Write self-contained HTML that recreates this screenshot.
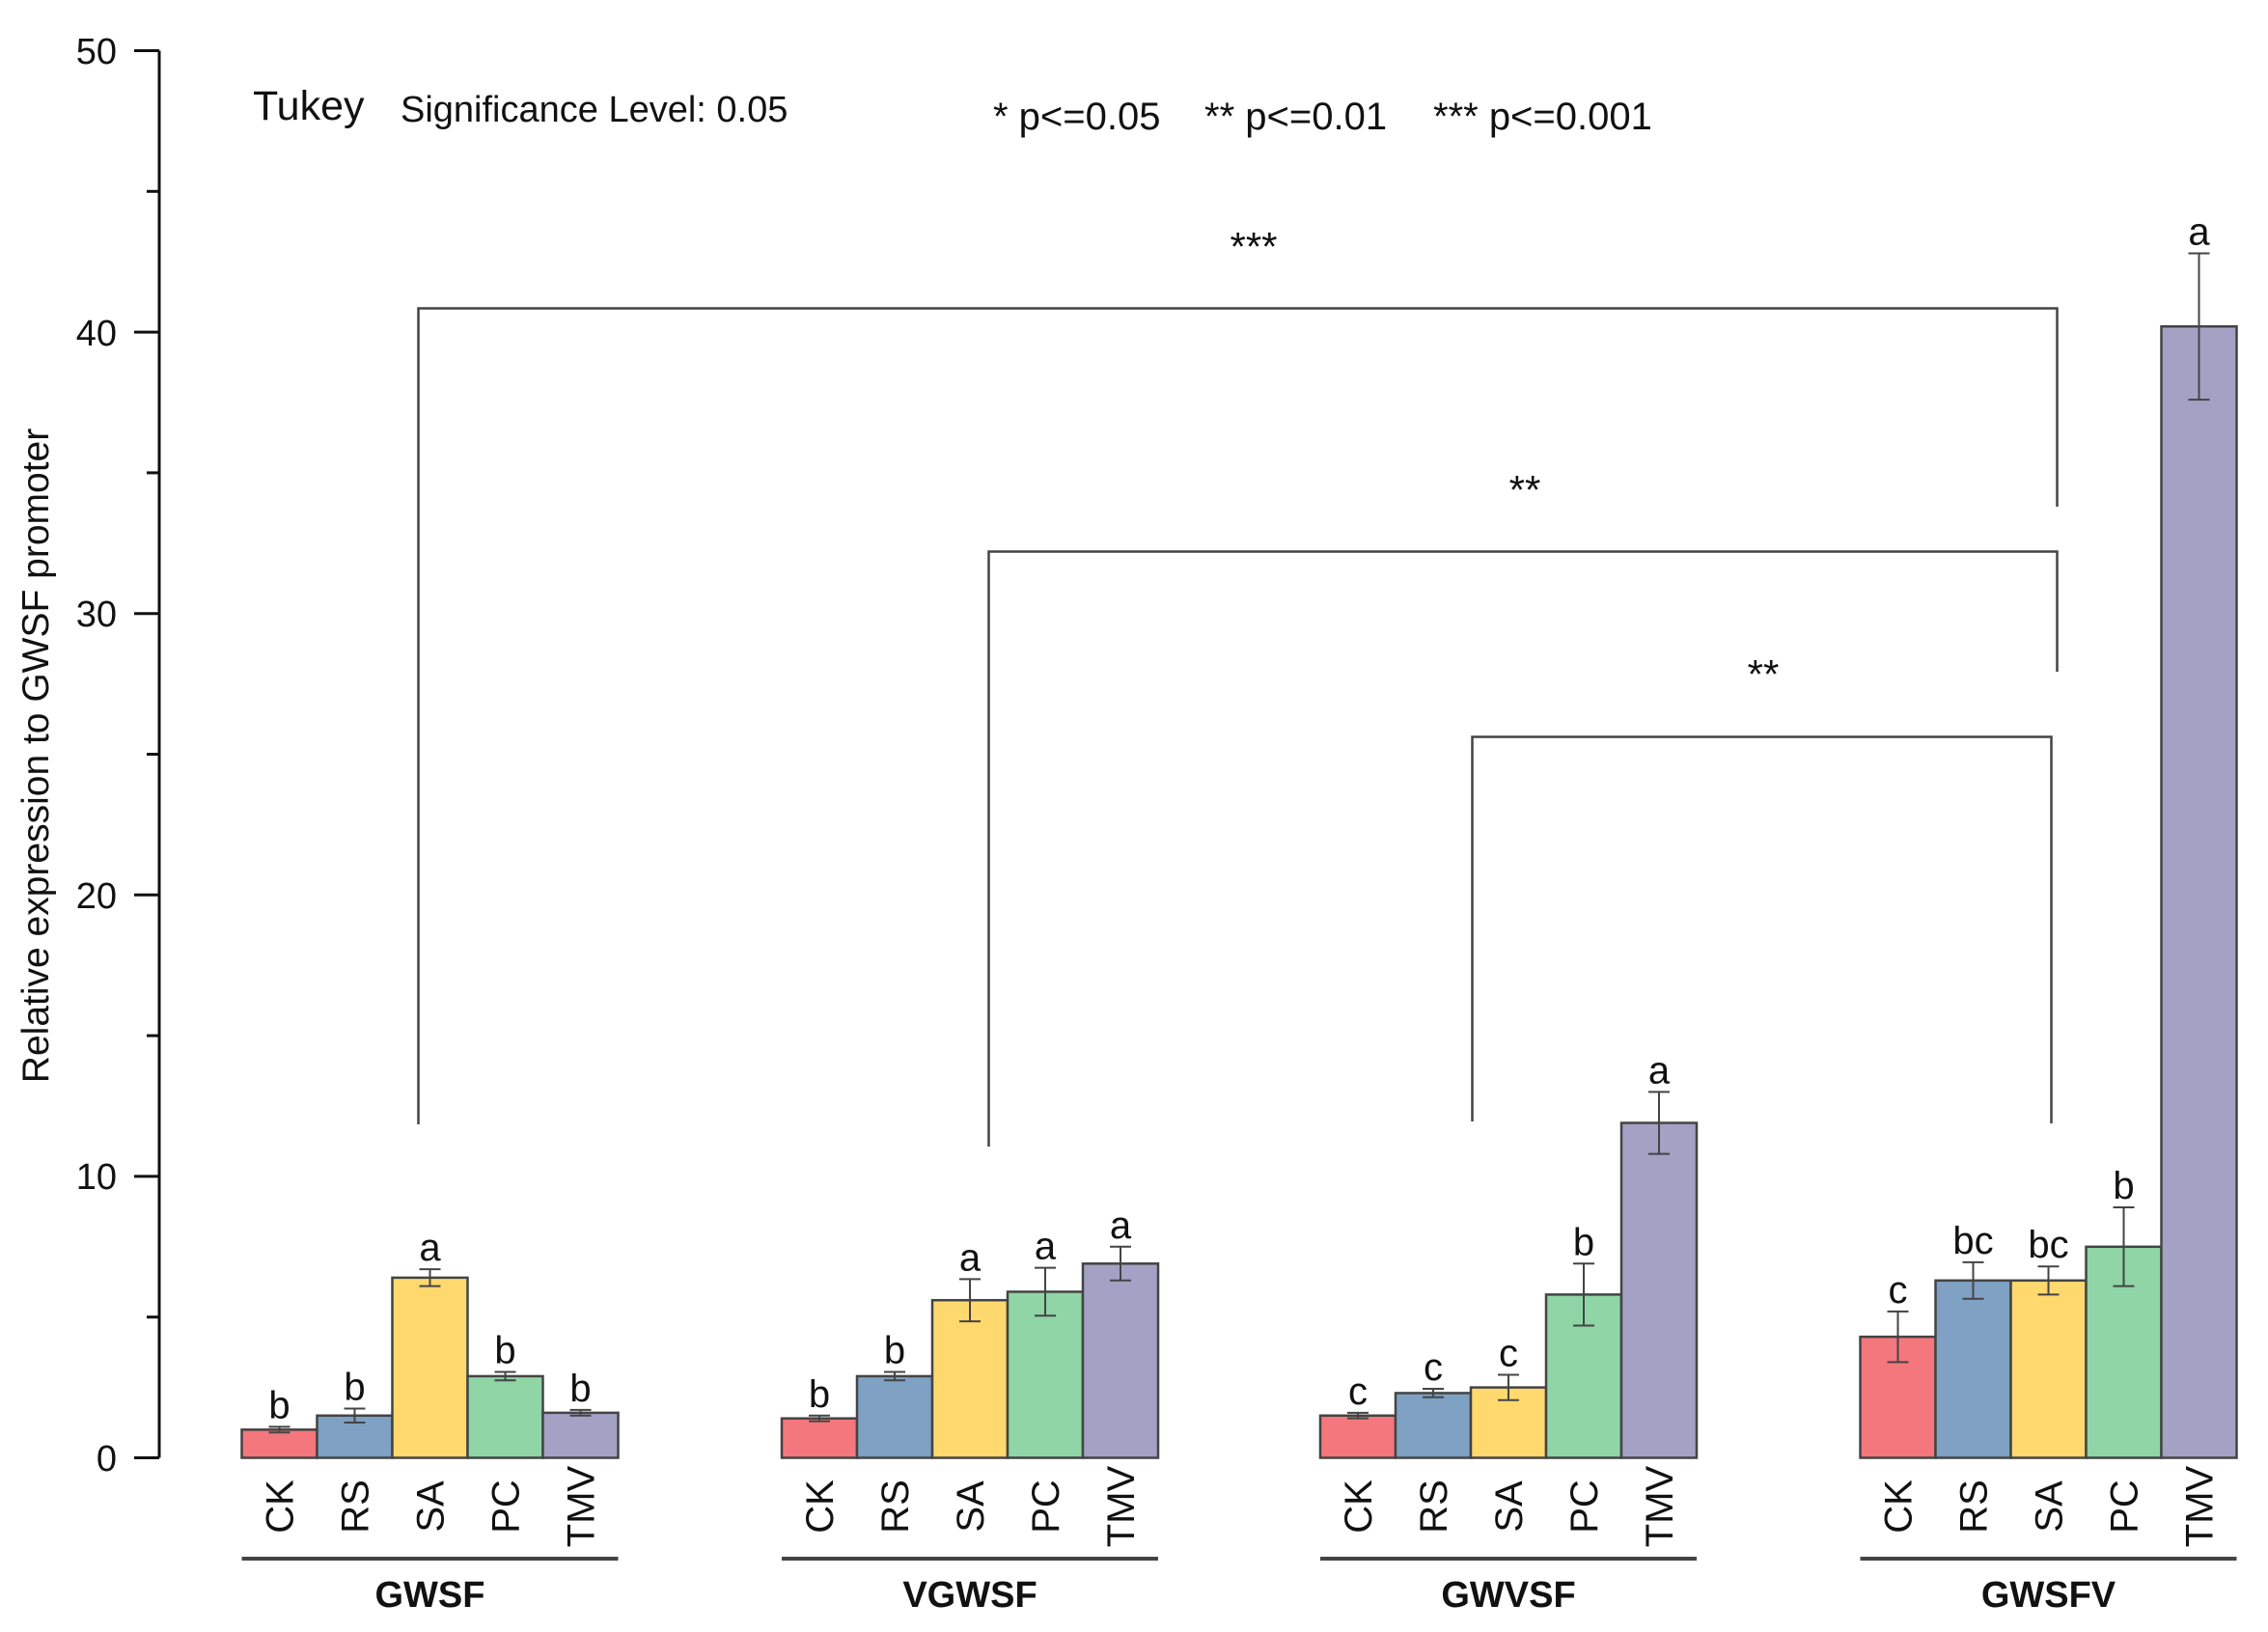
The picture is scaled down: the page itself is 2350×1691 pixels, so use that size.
<!DOCTYPE html>
<html><head><meta charset="utf-8"><style>body{margin:0;background:#fff}svg{display:block}text{font-family:"Liberation Sans",Arial,sans-serif;fill:#111}</style></head>
<body>
<svg width="2350" height="1691" viewBox="0 0 2350 1691" xmlns="http://www.w3.org/2000/svg">
<g stroke="#111" stroke-width="3" fill="none">
<line x1="165" y1="52.5" x2="165" y2="1510.5"/>
<line x1="139" y1="52.5" x2="165" y2="52.5"/><line x1="139" y1="344.1" x2="165" y2="344.1"/><line x1="139" y1="635.7" x2="165" y2="635.7"/><line x1="139" y1="927.3" x2="165" y2="927.3"/><line x1="139" y1="1218.9" x2="165" y2="1218.9"/><line x1="139" y1="1510.5" x2="165" y2="1510.5"/>
<line x1="152" y1="198.3" x2="165" y2="198.3"/><line x1="152" y1="489.9" x2="165" y2="489.9"/><line x1="152" y1="781.5" x2="165" y2="781.5"/><line x1="152" y1="1073.1" x2="165" y2="1073.1"/><line x1="152" y1="1364.7" x2="165" y2="1364.7"/>
</g>
<g font-size="38" text-anchor="end">
<text x="121" y="66">50</text><text x="121" y="358">40</text><text x="121" y="649">30</text><text x="121" y="941">20</text><text x="121" y="1232">10</text><text x="121" y="1524">0</text>
</g>
<text transform="translate(50,783) rotate(-90)" font-size="39" text-anchor="middle">Relative expression to GWSF promoter</text>
<text x="262" y="124" font-size="43">Tukey</text>
<text x="415" y="126" font-size="38">Significance Level: 0.05</text>
<text x="1029" y="134" font-size="40">* p&lt;=0.05</text>
<text x="1248" y="134" font-size="40">** p&lt;=0.01</text>
<text x="1485" y="134" font-size="40">*** p&lt;=0.001</text>
<g stroke="#444" stroke-width="2.5" fill="none">
<polyline points="433.5,1165 433.5,319.5 2131.5,319.5 2131.5,525"/>
<polyline points="1024.5,1188 1024.5,571.5 2131.5,571.5 2131.5,696"/>
<polyline points="1525.5,1162 1525.5,763.5 2125.5,763.5 2125.5,1164"/>
</g>
<g font-size="42" text-anchor="middle">
<text x="1299" y="270">***</text><text x="1580" y="522">**</text><text x="1827" y="713">**</text>
</g>
</svg>
<script>
const svg=document.querySelector('svg'),NS='http://www.w3.org/2000/svg';
const cols=['#f4777d','#7fa1c3','#ffd96e','#8fd5a6','#a3a2c5'];
const cats=['CK','RS','SA','PC','TMV'];
const starts=[250.5,810,1368,1927.5],names=['GWSF','VGWSF','GWVSF','GWSFV'];
const data=[[[1.0,.1,'b'],[1.5,.25,'b'],[6.4,.3,'a'],[2.9,.15,'b'],[1.6,.1,'b']],
[[1.4,.1,'b'],[2.9,.15,'b'],[5.6,.75,'a'],[5.9,.85,'a'],[6.9,.6,'a']],
[[1.5,.1,'c'],[2.3,.15,'c'],[2.5,.45,'c'],[5.8,1.1,'b'],[11.9,1.1,'a']],
[[4.3,.9,'c'],[6.3,.65,'bc'],[6.3,.5,'bc'],[7.5,1.4,'b'],[40.2,2.6,'a']]];
const Y=v=>1510.5-v*29.16,W=78;
function el(t,a,txt){const e=document.createElementNS(NS,t);for(const k in a)e.setAttribute(k,a[k]);if(txt)e.textContent=txt;svg.appendChild(e);return e;}
data.forEach((g,gi)=>{const s=starts[gi];
g.forEach((d,i)=>{const x=s+i*W,cx=x+W/2;
el('rect',{x:x,y:Y(d[0]),width:W,height:1510.5-Y(d[0]),fill:cols[i],stroke:'#444','stroke-width':2.5});
const t=Y(d[0]+d[1]),b=Y(d[0]-d[1]);
el('path',{d:`M${cx},${t}V${b}M${cx-11},${t}H${cx+11}M${cx-11},${b}H${cx+11}`,stroke:'#444','stroke-width':2,fill:'none'});
el('text',{x:cx,y:t-9,'font-size':40,'text-anchor':'middle'},d[2]);
el('text',{transform:`translate(${cx+14},1561) rotate(-90)`,'font-size':40,'text-anchor':'middle'},cats[i]);
});
el('line',{x1:s,y1:1615,x2:s+5*W,y2:1615,stroke:'#444','stroke-width':4});
el('text',{x:s+2.5*W,y:1665,'font-size':38,'font-weight':'bold','text-anchor':'middle'},names[gi]);
});
</script>
</body></html>
